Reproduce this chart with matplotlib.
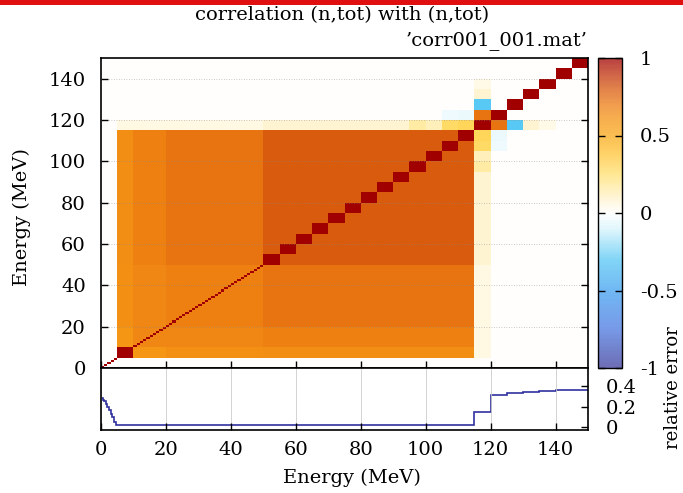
import numpy as np
import matplotlib
matplotlib.use('Agg')
import matplotlib.pyplot as plt
from matplotlib.colors import LinearSegmentedColormap
from matplotlib.patches import Rectangle

# ---------------- data ----------------
# energy groups (MeV) and the bin width used inside each group
group_bounds = [0, 5, 10, 20, 50, 115, 120, 150]
group_binwidth = [1, 5, 1, 1, 5, 5, 5]

# correlation between groups (off-diagonal bins); diagonal bins are 1
group_corr = [
    [0.00, 0.00, 0.00, 0.00, 0.00, 0.00, 0.00],
    [0.00, 1.00, 0.60, 0.62, 0.63, 0.05, 0.00],
    [0.00, 0.60, 0.66, 0.66, 0.68, 0.05, 0.00],
    [0.00, 0.62, 0.66, 0.68, 0.72, 0.05, 0.00],
    [0.00, 0.63, 0.68, 0.72, 0.79, 0.08, 0.00],
    [0.00, 0.05, 0.05, 0.05, 0.08, 1.00, 0.00],
    [0.00, 0.00, 0.00, 0.00, 0.00, 0.00, 0.00],
]

# individual cells (lower bin edge a, lower bin edge b, correlation)
cell_a = [115, 115, 115, 115, 115, 115, 115, 120, 120, 115]
cell_b = [120, 125, 130, 110, 105, 100, 95, 110, 105, 135]
cell_v = [0.72, -0.30, 0.08, 0.30, 0.28, 0.12, 0.16, -0.05, -0.04, 0.04]

# relative error (step function)
err_edges = [0, 0.5, 1, 1.5, 2, 2.5, 3, 3.5, 4, 4.5, 5, 115, 120, 125, 130, 135, 140, 150]
err_vals = [0.28, 0.27, 0.26, 0.23, 0.20, 0.17, 0.13, 0.10, 0.05, 0.02, 0.015,
            0.143, 0.31, 0.335, 0.345, 0.355, 0.36]

xticks = [0, 20, 40, 60, 80, 100, 120, 140]
yticks = [0, 20, 40, 60, 80, 100, 120, 140]
cbticks = [-1, -0.5, 0, 0.5, 1]
cblabels = ['-1', '-0.5', '0', '0.5', '1']
errticks = [0, 0.2, 0.4]
errlabels = ['0', '0.2', '0.4']

# ---------------- build matrix ----------------
edges = [group_bounds[0]]
bin_group = []
for g in range(len(group_binwidth)):
    e = group_bounds[g]
    while e < group_bounds[g + 1] - 1e-9:
        e += group_binwidth[g]
        edges.append(e)
        bin_group.append(g)
edges = np.array(edges, float)
n = len(bin_group)
M = np.zeros((n, n))
for i in range(n):
    for j in range(n):
        M[i, j] = group_corr[bin_group[i]][bin_group[j]]
    M[i, i] = 1.0
lo = list(edges[:-1])
for a, b, v in zip(cell_a, cell_b, cell_v):
    i = lo.index(a); j = lo.index(b)
    M[i, j] = v; M[j, i] = v

# ---------------- style ----------------
plt.rcParams['font.family'] = ['DejaVu Serif']
FS = 14

nodes = [(-1.0, '#3c3c9c'), (-0.75, '#4a78e0'), (-0.5, '#40a0f0'), (-0.3, '#58c8f4'),
         (-0.1, '#d8f4fc'), (0.0, '#ffffff'), (0.1, '#fff2c8'), (0.25, '#ffe070'),
         (0.4, '#ffc030'), (0.5, '#f8a818'), (0.6, '#f59614'), (0.7, '#ed7c12'),
         (0.8, '#d85a0e'), (0.9, '#c0300a'), (1.0, '#a00000')]
cmap = LinearSegmentedColormap.from_list('gp', [((p + 1) / 2, c) for p, c in nodes])

W, H = 683, 493
fig = plt.figure(figsize=(W / 100, H / 100), dpi=100)
ax = fig.add_axes([101 / W, 1 - 368 / H, 487 / W, 310 / H])
ax2 = fig.add_axes([101 / W, 1 - 430 / H, 487 / W, 62 / H])
cax = fig.add_axes([598 / W, 1 - 368 / H, 24 / W, 310 / H])

# red strip at top
fig.patches.append(Rectangle((0, 1 - 5 / H), 1, 5 / H, transform=fig.transFigure,
                             facecolor='#e01010', edgecolor='none'))

im = ax.pcolormesh(edges, edges, M, cmap=cmap, vmin=-1, vmax=1, shading='flat')
ax.set_xlim(0, 150)
ax.set_ylim(0, 150)
ax.set_yticks(yticks)
ax.set_xticks(xticks)
ax.set_xticklabels([])
ax.tick_params(direction='in', length=5, width=1, right=True, top=False,
               labelsize=FS, pad=11)
ax.yaxis.grid(True, color='#888888', linestyle=(0, (1, 2)), linewidth=0.6, alpha=0.6)
ax.set_axisbelow(False)
for s in ax.spines.values():
    s.set_linewidth(1.2)

# colorbar
cb = fig.colorbar(im, cax=cax, ticks=cbticks)
cb.solids.set(alpha=0.75)
cb.outline.set_linewidth(1.0)
cax.set_yticklabels(cblabels)
cax.tick_params(direction='in', length=5, width=1, left=True, right=True,
                labelsize=FS, pad=13)

# relative error panel
ax2.stairs(err_vals, err_edges, color='#3030a0', linewidth=1.2, baseline=None)
ax2.set_xlim(0, 150)
ax2.set_ylim(-0.03, 0.58)
ax2.set_xticks(xticks)
ax2.set_yticks(errticks)
ax2.set_yticklabels(errlabels)
ax2.yaxis.tick_right()
ax2.tick_params(axis='y', direction='in', length=5, width=1, labelsize=FS, pad=13)
ax2.tick_params(axis='x', direction='in', length=5, width=1, labelsize=FS, pad=8)
ax2.xaxis.grid(True, color='#cccccc', linewidth=0.6)
for s in ax2.spines.values():
    s.set_linewidth(1.2)

# texts
fig.text(342 / W, 1 - 15 / H, 'correlation (n,tot) with (n,tot)', ha='center', va='center', fontsize=FS)
fig.text(588 / W, 1 - 41 / H, '\u2019corr001_001.mat\u2019', ha='right', va='center', fontsize=FS)
fig.text(22 / W, 1 - 217 / H, 'Energy (MeV)', rotation=90, ha='center', va='center', fontsize=FS)
fig.text(352 / W, 1 - 478 / H, 'Energy (MeV)', ha='center', va='center', fontsize=FS)
fig.text(673 / W, 1 - 388 / H, 'relative error', rotation=90, ha='center', va='center', fontsize=FS - 1)

fig.savefig('out.png', dpi=100)
